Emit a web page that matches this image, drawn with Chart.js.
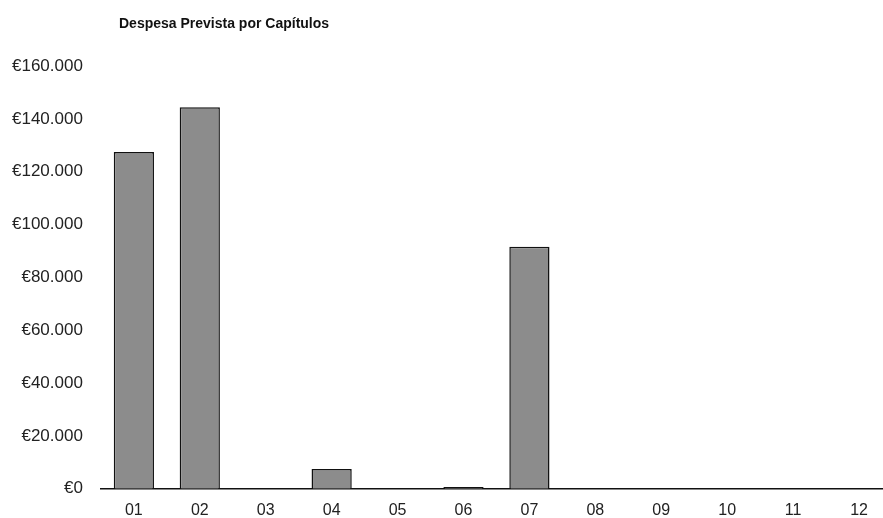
<!DOCTYPE html>
<html>
<head>
<meta charset="utf-8">
<script src="https://cdn.jsdelivr.net/npm/chart.js@4"></script>
<style>
  html, body { margin: 0; padding: 0; background: #fff; overflow: hidden; }
  #wrap { position: relative; width: 883px; height: 518px; overflow: hidden; }
  #title { position: absolute; left: 119px; top: 15px; font: bold 14px "Liberation Sans", Arial, sans-serif; color: #111; }
  canvas { position: absolute; left: 0; top: 0; }
</style>
</head>
<body>
<div id="wrap">
  <canvas id="c" width="895" height="532"></canvas>
  <div id="title">Despesa Prevista por Capítulos</div>
</div>
<script>
const categories = ["01","02","03","04","05","06","07","08","09","10","11","12"];
const despesa = [127500, 144400, 0, 7500, 0, 700, 91600, 0, 0, 0, 0, 0];
const yMin = 0, yMax = 160000, yStep = 20000;

function euro(v) {
  return "€" + String(v).replace(/\B(?=(\d{3})+(?!\d))/g, ".");
}

new Chart(document.getElementById("c"), {
  type: "bar",
  data: {
    labels: categories,
    datasets: [{
      data: despesa,
      backgroundColor: "#8c8c8c",
      borderColor: "#111",
      borderWidth: 1.5,
      barPercentage: 0.61,
      categoryPercentage: 1
    }]
  },
  options: {
    responsive: false,
    animation: false,
    layout: { padding: { top: 66, right: 3, bottom: 0, left: -6 } },
    plugins: { legend: { display: false }, tooltip: { enabled: false } },
    scales: {
      x: {
        grid: { display: false, drawTicks: false },
        border: { display: true, color: "#111", width: 1.5 },
        ticks: { color: "#222", font: { family: "Liberation Sans", size: 16 }, padding: 12 }
      },
      y: {
        min: yMin, max: yMax,
        grid: { display: false, drawTicks: false },
        border: { display: false },
        ticks: { stepSize: yStep, color: "#222", font: { family: "Liberation Sans", size: 17 }, padding: 18, callback: v => euro(v) }
      }
    }
  }
});
</script>
</body>
</html>
